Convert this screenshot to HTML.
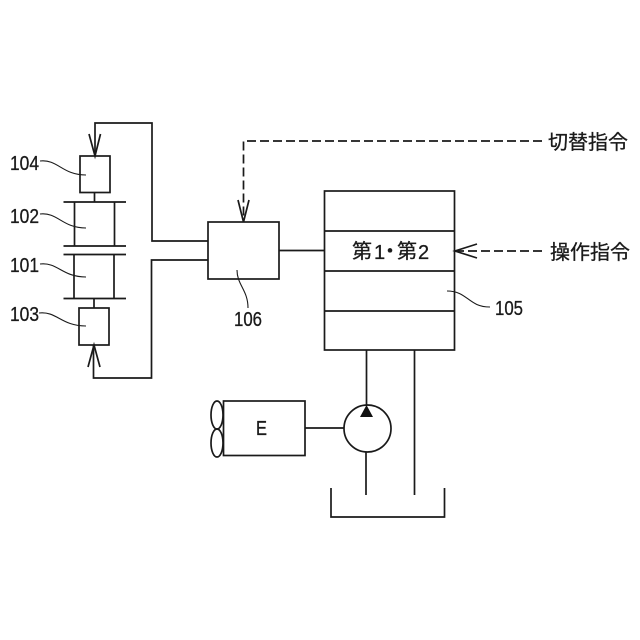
<!DOCTYPE html>
<html><head><meta charset="utf-8"><style>
html,body{margin:0;padding:0;background:#fff}
svg{display:block}
text{fill:#1a1a1a;stroke:#1a1a1a;stroke-width:.3}
.n{font:20px "Liberation Sans",sans-serif}
.j{font:20px "Liberation Sans","Noto Sans CJK JP",sans-serif}
</style></head><body>
<svg width="640" height="640" viewBox="0 0 640 640" xmlns="http://www.w3.org/2000/svg">
<g fill="none" stroke="#1a1a1a" stroke-width="1.7">
<path d="M95 156V123H152V241H208"/>
<path d="M208 260H151.500V378H93.500V345"/>
<path d="M89 134L95 156L100.500 134"/>
<path d="M88 367L94 345L100 367"/>
<rect x="80" y="156" width="30" height="36.500"/>
<rect x="79" y="308" width="30" height="37"/>
<path d="M94.500 192.500V202M94 298.500V308"/>
<path d="M63.500 202H126M63.500 246H126M63.500 254.500H126M63.500 298.500H126"/>
<path d="M74.500 202V246M114.500 202V246M74 254.500V298.500M114 254.500V298.500"/>
<g stroke-width="1.1">
<path d="M40 161C58 159 62 175 86 175"/>
<path d="M40 214C58 212 62 228 86 228"/>
<path d="M40 264C58 262 62 277 86 277"/>
<path d="M39 313C57 311 61 326 86 326"/>
<path d="M447 291C468 291 468 307 490 307"/>
<path d="M237 270C237 285 248 290 248 308"/>
</g>
<rect x="208" y="222" width="71" height="57"/>
<path d="M279 250.500H325"/>
<path d="M542 141H243.500V222" stroke-dasharray="9 4"/>
<path d="M238 200L243.500 222L249 200"/>
<rect x="324.500" y="191" width="130" height="159"/>
<path d="M324.500 231H454.500M324.500 271H454.500M324.500 311H454.500"/>
<path d="M542 251H455" stroke-dasharray="9 4"/>
<path d="M477 244L455 251L477 258"/>
<path d="M366.500 350V406M414.500 350V495M366 452V495"/>
<circle cx="367.500" cy="428.500" r="23.500"/>
<path d="M331 488V517H444.500V488"/>
<rect x="223.500" y="401" width="81.500" height="54.500"/>
<path d="M305 428H344"/>
<ellipse cx="217" cy="415" rx="6" ry="14"/>
<ellipse cx="217" cy="443" rx="6" ry="14"/>
</g>
<path d="M366.500 405L360 417H373Z" fill="#111"/>
<text class="n" x="10" y="170" textLength="29" lengthAdjust="spacingAndGlyphs">104</text>
<text class="n" x="10" y="223" textLength="29" lengthAdjust="spacingAndGlyphs">102</text>
<text class="n" x="10" y="272" textLength="29" lengthAdjust="spacingAndGlyphs">101</text>
<text class="n" x="10" y="321" textLength="29" lengthAdjust="spacingAndGlyphs">103</text>
<text class="n" x="495" y="315" textLength="28" lengthAdjust="spacingAndGlyphs">105</text>
<text class="n" x="234" y="326" textLength="28" lengthAdjust="spacingAndGlyphs">106</text>
<text class="n" x="256" y="435" textLength="11" lengthAdjust="spacingAndGlyphs">E</text>
<text class="j" x="548" y="149">切替指令</text>
<text class="j" x="550" y="259">操作指令</text>
<text class="j" x="352" y="258">第</text>
<text class="n" x="374" y="259">1</text>
<text class="j" x="380" y="258">・</text>
<text class="j" x="397" y="258">第</text>
<text class="n" x="418" y="259">2</text>
</svg>
</body></html>
